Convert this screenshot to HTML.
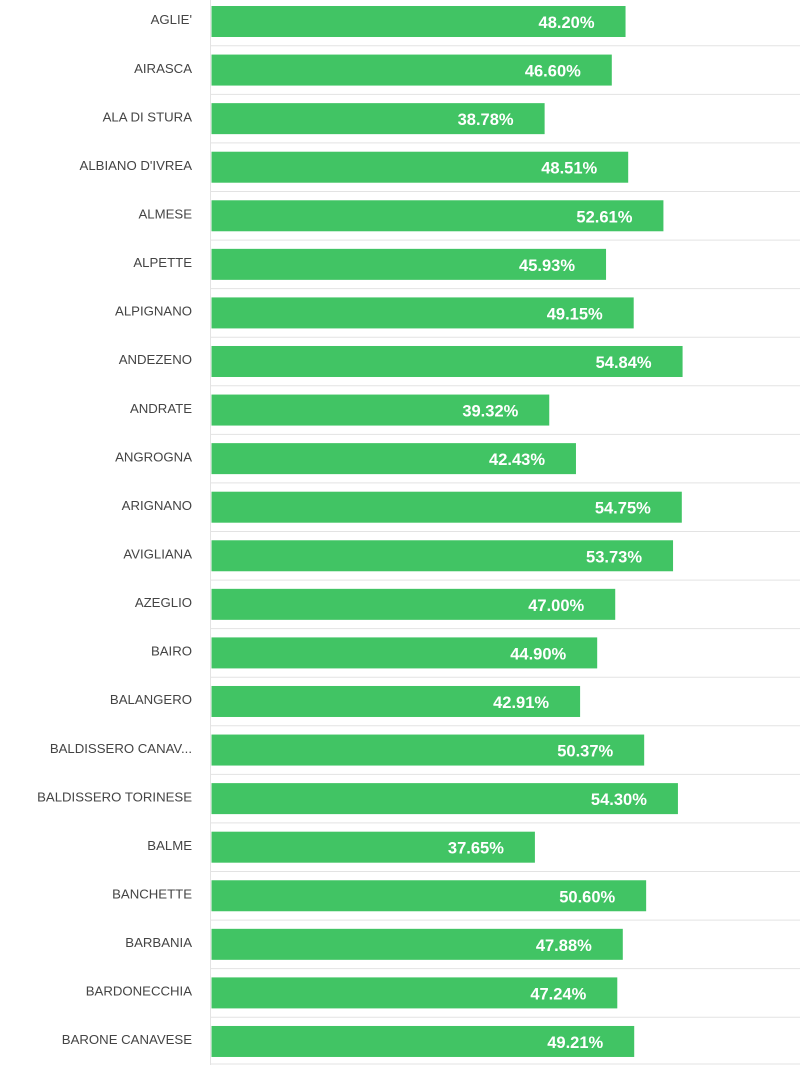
<!DOCTYPE html>
<html>
<head>
<meta charset="utf-8">
<style>
html,body{margin:0;padding:0;background:#fff;}
svg{display:block;}
.lb{font-family:"Liberation Sans",Arial,sans-serif;font-size:13.2px;fill:#444;text-anchor:end;}
.vl{font-family:"Liberation Sans",Arial,sans-serif;font-size:16.5px;font-weight:bold;fill:#fff;text-anchor:end;}
.bar{fill:#41c464;}
.grid{stroke:#e3e3e3;stroke-width:1;}
</style>
</head>
<body>
<svg width="800" height="1065" viewBox="0 0 800 1065" xmlns="http://www.w3.org/2000/svg">
<g class="grid">
<line x1="210" y1="45.8" x2="800" y2="45.8"/>
<line x1="210" y1="94.4" x2="800" y2="94.4"/>
<line x1="210" y1="142.9" x2="800" y2="142.9"/>
<line x1="210" y1="191.5" x2="800" y2="191.5"/>
<line x1="210" y1="240.1" x2="800" y2="240.1"/>
<line x1="210" y1="288.6" x2="800" y2="288.6"/>
<line x1="210" y1="337.2" x2="800" y2="337.2"/>
<line x1="210" y1="385.8" x2="800" y2="385.8"/>
<line x1="210" y1="434.4" x2="800" y2="434.4"/>
<line x1="210" y1="482.9" x2="800" y2="482.9"/>
<line x1="210" y1="531.5" x2="800" y2="531.5"/>
<line x1="210" y1="580.1" x2="800" y2="580.1"/>
<line x1="210" y1="628.6" x2="800" y2="628.6"/>
<line x1="210" y1="677.2" x2="800" y2="677.2"/>
<line x1="210" y1="725.8" x2="800" y2="725.8"/>
<line x1="210" y1="774.4" x2="800" y2="774.4"/>
<line x1="210" y1="822.9" x2="800" y2="822.9"/>
<line x1="210" y1="871.5" x2="800" y2="871.5"/>
<line x1="210" y1="920.1" x2="800" y2="920.1"/>
<line x1="210" y1="968.6" x2="800" y2="968.6"/>
<line x1="210" y1="1017.2" x2="800" y2="1017.2"/>
<line x1="210" y1="1064" x2="800" y2="1064"/>
<line x1="210.5" y1="0" x2="210.5" y2="1065"/>
</g>

<g>
<rect class="bar" x="211.5" y="6" width="414.04" height="31"/>
<rect class="bar" x="211.5" y="54.57" width="400.29" height="31"/>
<rect class="bar" x="211.5" y="103.14" width="333.12" height="31"/>
<rect class="bar" x="211.5" y="151.71" width="416.70" height="31"/>
<rect class="bar" x="211.5" y="200.28" width="451.92" height="31"/>
<rect class="bar" x="211.5" y="248.85" width="394.54" height="31"/>
<rect class="bar" x="211.5" y="297.42" width="422.20" height="31"/>
<rect class="bar" x="211.5" y="345.99" width="471.08" height="31"/>
<rect class="bar" x="211.5" y="394.56" width="337.76" height="31"/>
<rect class="bar" x="211.5" y="443.13" width="364.47" height="31"/>
<rect class="bar" x="211.5" y="491.7" width="470.30" height="31"/>
<rect class="bar" x="211.5" y="540.27" width="461.54" height="31"/>
<rect class="bar" x="211.5" y="588.84" width="403.73" height="31"/>
<rect class="bar" x="211.5" y="637.41" width="385.69" height="31"/>
<rect class="bar" x="211.5" y="685.98" width="368.60" height="31"/>
<rect class="bar" x="211.5" y="734.55" width="432.68" height="31"/>
<rect class="bar" x="211.5" y="783.12" width="466.44" height="31"/>
<rect class="bar" x="211.5" y="831.69" width="323.41" height="31"/>
<rect class="bar" x="211.5" y="880.26" width="434.65" height="31"/>
<rect class="bar" x="211.5" y="928.83" width="411.29" height="31"/>
<rect class="bar" x="211.5" y="977.4" width="405.79" height="31"/>
<rect class="bar" x="211.5" y="1025.97" width="422.71" height="31"/>
</g>

<g>
<text class="lb" x="192" y="24.2">AGLIE'</text>
<text class="lb" x="192" y="72.77">AIRASCA</text>
<text class="lb" x="192" y="121.34">ALA DI STURA</text>
<text class="lb" x="192" y="169.91">ALBIANO D'IVREA</text>
<text class="lb" x="192" y="218.48">ALMESE</text>
<text class="lb" x="192" y="267.05">ALPETTE</text>
<text class="lb" x="192" y="315.62">ALPIGNANO</text>
<text class="lb" x="192" y="364.19">ANDEZENO</text>
<text class="lb" x="192" y="412.76">ANDRATE</text>
<text class="lb" x="192" y="461.33">ANGROGNA</text>
<text class="lb" x="192" y="509.9">ARIGNANO</text>
<text class="lb" x="192" y="558.47">AVIGLIANA</text>
<text class="lb" x="192" y="607.04">AZEGLIO</text>
<text class="lb" x="192" y="655.61">BAIRO</text>
<text class="lb" x="192" y="704.18">BALANGERO</text>
<text class="lb" x="192" y="752.75">BALDISSERO CANAV...</text>
<text class="lb" x="192" y="801.32">BALDISSERO TORINESE</text>
<text class="lb" x="192" y="849.89">BALME</text>
<text class="lb" x="192" y="898.46">BANCHETTE</text>
<text class="lb" x="192" y="947.03">BARBANIA</text>
<text class="lb" x="192" y="995.6">BARDONECCHIA</text>
<text class="lb" x="192" y="1044.17">BARONE CANAVESE</text>
</g>

<g>
<text class="vl" x="594.5" y="28">48.20%</text>
<text class="vl" x="580.8" y="76.57">46.60%</text>
<text class="vl" x="513.6" y="125.14">38.78%</text>
<text class="vl" x="597.2" y="173.71">48.51%</text>
<text class="vl" x="632.4" y="222.28">52.61%</text>
<text class="vl" x="575.0" y="270.85">45.93%</text>
<text class="vl" x="602.7" y="319.42">49.15%</text>
<text class="vl" x="651.6" y="367.99">54.84%</text>
<text class="vl" x="518.3" y="416.56">39.32%</text>
<text class="vl" x="545.0" y="465.13">42.43%</text>
<text class="vl" x="650.8" y="513.7">54.75%</text>
<text class="vl" x="642.0" y="562.27">53.73%</text>
<text class="vl" x="584.2" y="610.84">47.00%</text>
<text class="vl" x="566.2" y="659.41">44.90%</text>
<text class="vl" x="549.1" y="707.98">42.91%</text>
<text class="vl" x="613.2" y="756.55">50.37%</text>
<text class="vl" x="646.9" y="805.12">54.30%</text>
<text class="vl" x="503.9" y="853.69">37.65%</text>
<text class="vl" x="615.2" y="902.26">50.60%</text>
<text class="vl" x="591.8" y="950.83">47.88%</text>
<text class="vl" x="586.3" y="999.4">47.24%</text>
<text class="vl" x="603.2" y="1047.97">49.21%</text>
</g>
</svg>
</body>
</html>
